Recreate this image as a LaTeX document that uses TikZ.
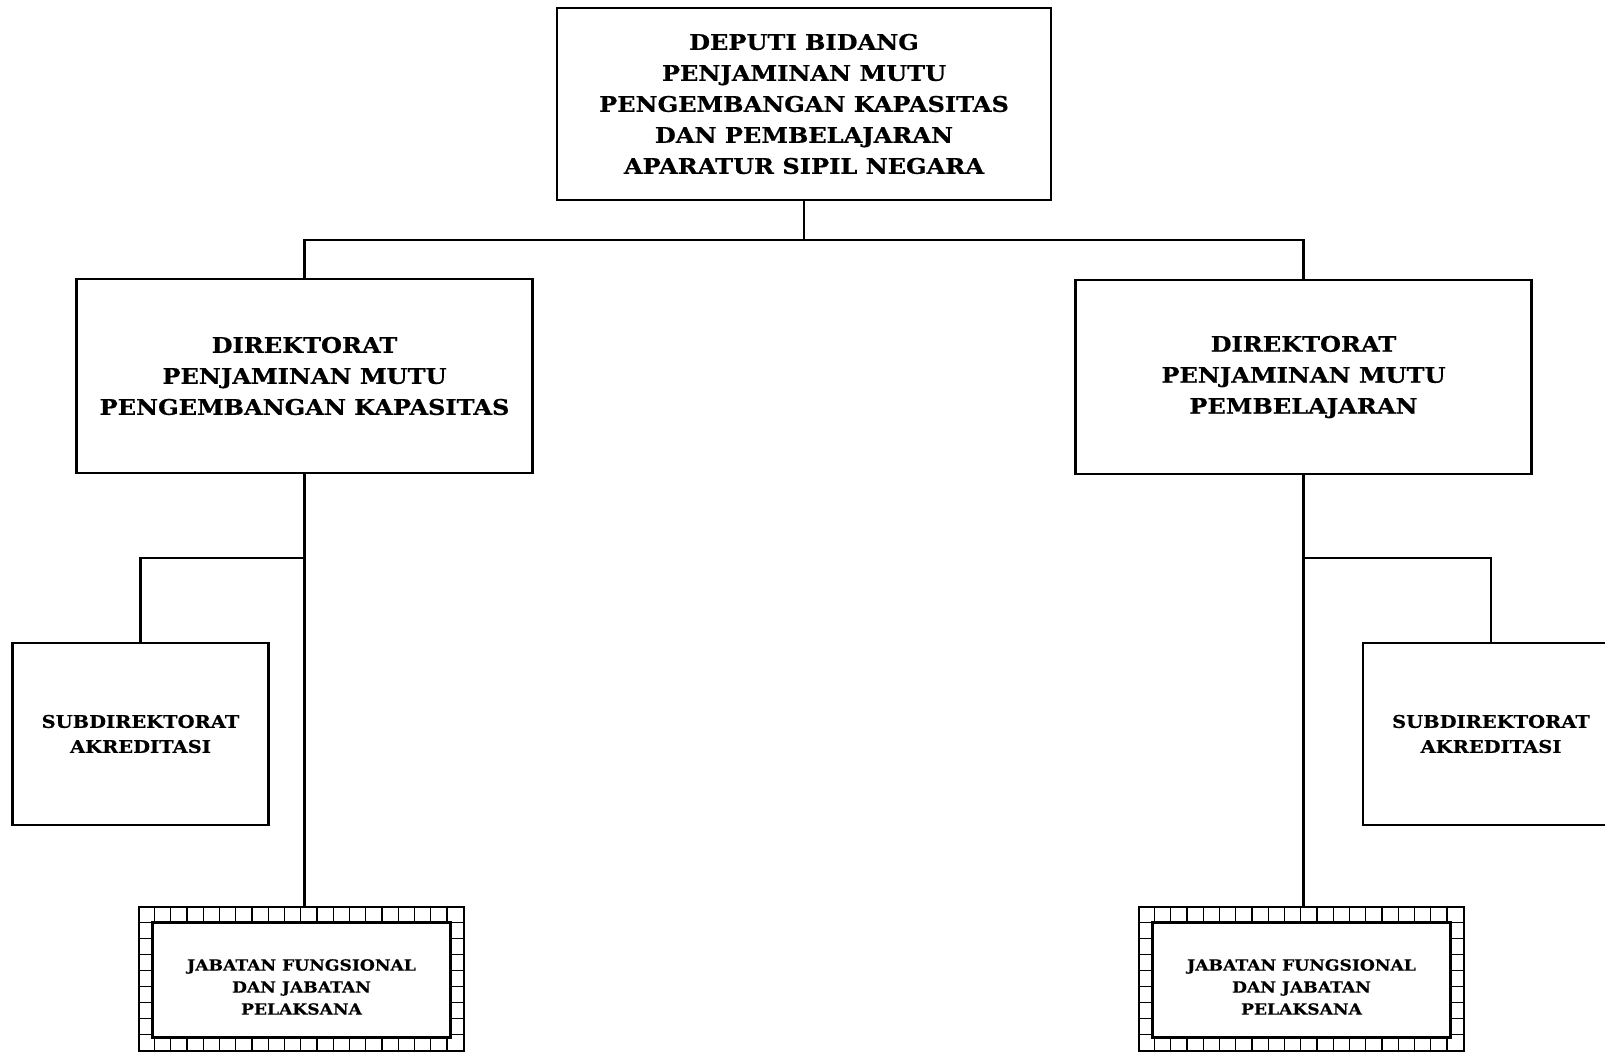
\documentclass[tikz,border=0pt]{standalone}
\usepackage{fontspec}
\setmainfont{DejaVu Serif}[BoldFont={DejaVu Serif Bold},BoldFeatures={FakeStretch=1.12,FakeBold=0.6}]
\begin{document}
\begin{tikzpicture}[x=1pt,y=-1pt,
  unitbox/.style={draw,line width=2.2pt,fill=white,align=center,inner sep=0pt},
  jabtext/.style={font=\bfseries\fontsize{15.3}{22}\selectfont,align=center},
  filmbox/.style={draw,line width=1.6pt,fill=white,inner sep=0pt,
    minimum width=325pt,minimum height=144pt},
  link/.style={line width=2.2pt,line cap=rect},
  tick/.style={line width=1.4pt}
]
\useasboundingbox (0,0) rectangle (1605,1054);
\clip (0,0) rectangle (1605,1054);

% head of the deputy
\node[unitbox,minimum width=494pt,minimum height=192pt] (dep) at (804,104)
  {\begin{minipage}{480pt}\centering\bfseries\fontsize{21.5}{31}\selectfont
   DEPUTI BIDANG\\PENJAMINAN MUTU\\PENGEMBANGAN KAPASITAS\\DAN PEMBELAJARAN\\APARATUR SIPIL NEGARA\end{minipage}};

% directorates
\node[unitbox,minimum width=456pt,minimum height=194pt] (dirL) at (304.5,376)
  {\begin{minipage}{450pt}\centering\bfseries\fontsize{21.5}{31}\selectfont
   DIREKTORAT\\PENJAMINAN MUTU\\PENGEMBANGAN KAPASITAS\end{minipage}};
\node[unitbox,minimum width=456pt,minimum height=194pt] (dirR) at (1303.5,377)
  {\begin{minipage}{450pt}\centering\bfseries\fontsize{21.5}{31}\selectfont
   DIREKTORAT\\PENJAMINAN MUTU\\PEMBELAJARAN\end{minipage}};

% sub-directorates
\node[unitbox,minimum width=256pt,minimum height=182pt] (subL) at (140.5,734)
  {\begin{minipage}{250pt}\centering\bfseries\fontsize{17.4}{25}\selectfont
   SUBDIREKTORAT\\AKREDITASI\end{minipage}};
\node[unitbox,minimum width=256pt,minimum height=182pt] (subR) at (1491,734)
  {\begin{minipage}{250pt}\centering\bfseries\fontsize{17.4}{25}\selectfont
   SUBDIREKTORAT\\AKREDITASI\end{minipage}};

% functional positions, framed like a film strip
\node[filmbox] (jabL) at (301.5,979) {};
\node[filmbox] (jabR) at (1301.5,979) {};
\foreach \j in {jabL,jabR}{
  \draw[line width=3pt] ([shift={(14,16)}]\j.north west) rectangle ([shift={(-14,-14)}]\j.south east);
  \foreach \k in {1,...,19}{
    \draw[tick] ([shift={(\k*16.25,0)}]\j.north west) -- ++(0,16);
    \draw[tick] ([shift={(\k*16.25,0)}]\j.south west) -- ++(0,-14);
  }
  \foreach \k in {1,...,8}{
    \draw[tick] ([shift={(0,\k*16)}]\j.north west) -- ++(14,0);
    \draw[tick] ([shift={(0,\k*16)}]\j.north east) -- ++(-14,0);
  }
}
\node[jabtext] (jabLt) at ([shift={(0,8)}]jabL.center) {JABATAN FUNGSIONAL\\DAN JABATAN\\PELAKSANA};
\node[jabtext] (jabRt) at ([shift={(0,8)}]jabR.center) {JABATAN FUNGSIONAL\\DAN JABATAN\\PELAKSANA};

% connectors
\coordinate (bus) at (804,240);
\draw[link] (dep.south) -- (bus);
\draw[link] (bus) -| (dirL.north);
\draw[link] (bus) -| (dirR.north);
\draw[link] (dirL.south) -- (jabL.north -| dirL.south);
\draw[link] (dirR.south) -- (jabR.north -| dirR.south);
\coordinate (brL) at (dirL.south |- 0,558);
\coordinate (brR) at (dirR.south |- 0,558);
\draw[link] (brL) -| (subL.north);
\draw[link] (brR) -| (subR.north);
\end{tikzpicture}
\end{document}
